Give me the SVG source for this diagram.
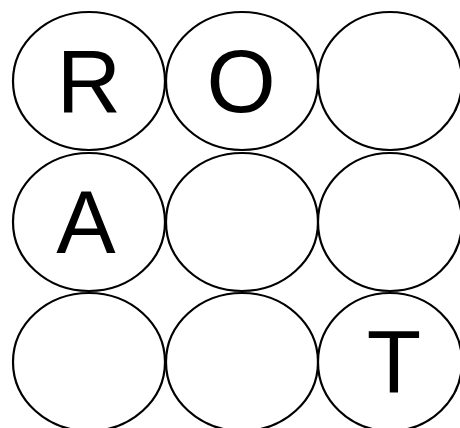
<svg xmlns="http://www.w3.org/2000/svg" width="460" height="428" viewBox="0 0 460 428">
<style>
.c{fill:#fff;stroke:#000;stroke-width:2.2}
.t{font-family:"Liberation Sans",Arial,sans-serif;font-size:89px;text-anchor:middle;fill:#000}
</style>
<rect width="460" height="428" fill="#fff"/>
<g id="n00"><ellipse class="c" cx="89" cy="81" rx="76" ry="69"/><text class="t" x="89" y="112">R</text></g>
<g id="n01"><ellipse class="c" cx="242" cy="81" rx="76" ry="69"/><text class="t" x="241" y="112">O</text></g>
<g id="n02"><ellipse class="c" cx="390" cy="81" rx="72" ry="69"/></g>
<g id="n10"><ellipse class="c" cx="89" cy="222" rx="76" ry="69"/><text class="t" x="86" y="253">A</text></g>
<g id="n11"><ellipse class="c" cx="242" cy="222" rx="76" ry="69"/></g>
<g id="n12"><ellipse class="c" cx="390" cy="222" rx="72" ry="69"/></g>
<g id="n20"><ellipse class="c" cx="89" cy="362" rx="76" ry="69"/></g>
<g id="n21"><ellipse class="c" cx="242" cy="362" rx="76" ry="69"/></g>
<g id="n22"><ellipse class="c" cx="390" cy="362" rx="72" ry="69"/><text class="t" x="394" y="393">T</text></g>
<g id="connectors"/>
</svg>
